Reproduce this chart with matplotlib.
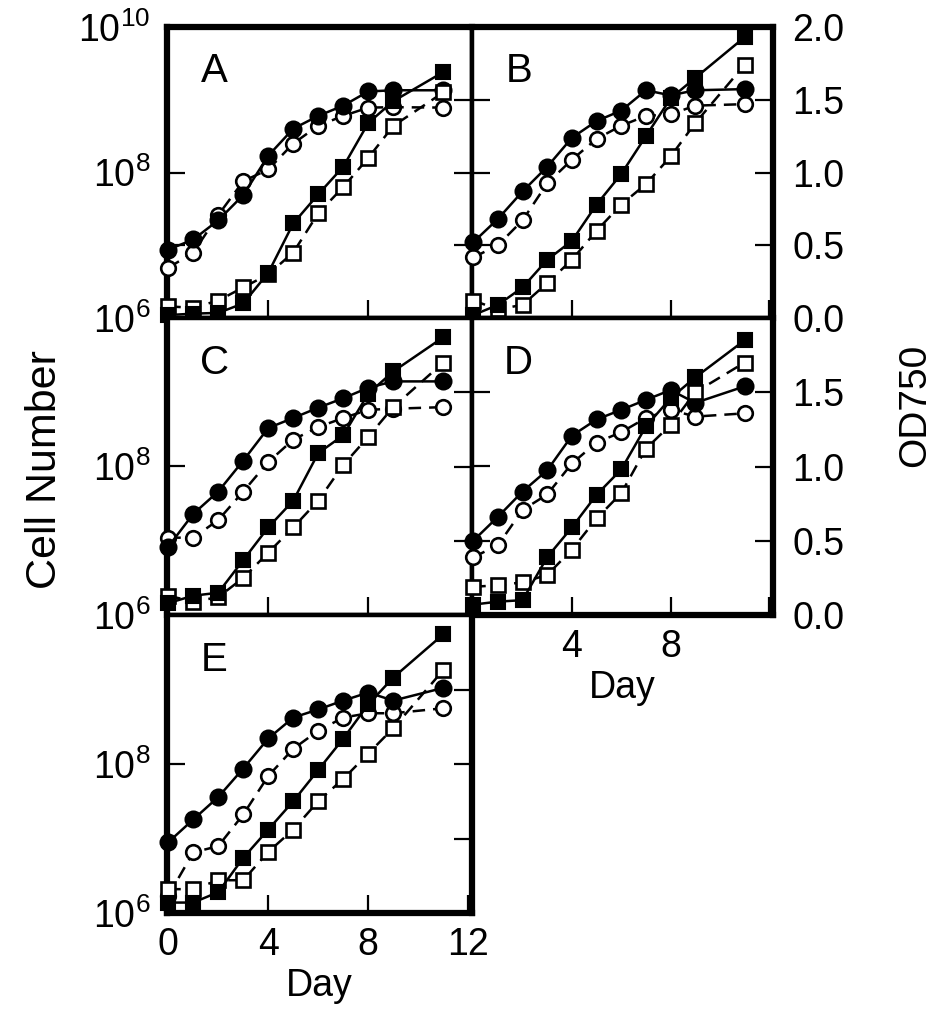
import numpy as np
import matplotlib.pyplot as plt
from matplotlib.ticker import FixedLocator, FixedFormatter, NullLocator

plt.rcParams['font.family'] = ['Liberation Sans', 'DejaVu Sans']
plt.rcParams['mathtext.fontset'] = 'custom'
plt.rcParams['mathtext.rm'] = 'Liberation Sans'

days = [0, 1, 2, 3, 4, 5, 6, 7, 8, 9, 11]

# cell number (circles, log axis) and OD750 (squares, linear axis)
A_cells_filled = [8.7e6, 1.2e7, 2.2e7, 4.9e7, 1.7e8, 4.0e8, 6.0e8, 8.3e8, 1.3e9, 1.35e9, 1.35e9]
A_cells_open = [4.9e6, 7.9e6, 2.6e7, 7.6e7, 1.1e8, 2.5e8, 4.4e8, 6.0e8, 7.8e8, 7.9e8, 7.8e8]
A_od_filled = [0.02, 0.03, 0.035, 0.10, 0.31, 0.65, 0.85, 1.04, 1.34, 1.49, 1.69]
A_od_open = [0.08, 0.07, 0.12, 0.21, 0.30, 0.45, 0.72, 0.90, 1.10, 1.32, 1.55]

B_cells_filled = [1.1e7, 2.3e7, 5.5e7, 1.2e8, 3.0e8, 5.1e8, 7.1e8, 1.35e9, 1.15e9, 1.35e9, 1.4e9]
B_cells_open = [6.8e6, 1.0e7, 2.2e7, 7.1e7, 1.5e8, 2.9e8, 4.4e8, 6.0e8, 6.3e8, 8.3e8, 8.7e8]
B_od_filled = [0.02, 0.09, 0.21, 0.40, 0.53, 0.78, 0.99, 1.25, 1.51, 1.65, 1.93]
B_od_open = [0.12, 0.06, 0.09, 0.24, 0.40, 0.60, 0.78, 0.92, 1.11, 1.34, 1.74]

C_cells_filled = [8.3e6, 2.3e7, 4.6e7, 1.2e8, 3.3e8, 4.5e8, 6.2e8, 8.3e8, 1.15e9, 1.4e9, 1.4e9]
C_cells_open = [1.1e7, 1.1e7, 1.9e7, 4.6e7, 1.15e8, 2.3e8, 3.4e8, 4.5e8, 5.8e8, 6.0e8, 6.3e8]
C_od_filled = [0.08, 0.13, 0.15, 0.37, 0.59, 0.77, 1.09, 1.21, 1.49, 1.64, 1.87]
C_od_open = [0.13, 0.09, 0.12, 0.25, 0.42, 0.59, 0.77, 1.01, 1.20, 1.40, 1.70]

D_cells_filled = [1.0e7, 2.1e7, 4.6e7, 8.9e7, 2.6e8, 4.3e8, 5.8e8, 7.9e8, 1.07e9, 7.2e8, 1.2e9]
D_cells_open = [6.0e6, 8.7e6, 2.6e7, 4.2e7, 1.1e8, 2.1e8, 2.9e8, 4.5e8, 5.8e8, 4.7e8, 5.2e8]
D_od_filled = [0.07, 0.09, 0.10, 0.39, 0.59, 0.81, 0.98, 1.27, 1.46, 1.60, 1.85]
D_od_open = [0.19, 0.20, 0.22, 0.27, 0.44, 0.65, 0.82, 1.12, 1.28, 1.50, 1.70]

E_cells_filled = [8.9e6, 1.8e7, 3.6e7, 8.7e7, 2.2e8, 4.2e8, 5.4e8, 7.1e8, 9.1e8, 7.1e8, 1.05e9]
E_cells_open = [1.7e6, 6.5e6, 7.9e6, 2.1e7, 6.9e7, 1.6e8, 2.8e8, 4.2e8, 4.8e8, 4.8e8, 5.6e8]
E_od_filled = [0.07, 0.07, 0.14, 0.37, 0.56, 0.75, 0.96, 1.17, 1.40, 1.58, 1.87]
E_od_open = [0.16, 0.16, 0.22, 0.22, 0.41, 0.56, 0.75, 0.90, 1.07, 1.24, 1.63]

W, H = 945, 1021
fig = plt.figure(figsize=(W / 100, H / 100), dpi=100)

FS = 27
dash = (0, (5, 3.2))


def panel(box, letter, cf, co, of, oo, outer, left_col, ylabels_log, ylabels_od, xlabels):
    x0, y0, x1, y1 = box
    ax = fig.add_axes([x0 / W, 1 - y1 / H, (x1 - x0) / W, (y1 - y0) / H])
    ax.set_yscale('log')
    ax.set_ylim(1e6, 1e10)
    ax.set_xlim(-0.05, 12.15)
    ax2 = ax.twinx()
    ax2.set_ylim(0, 2)

    ax.plot(days, cf, '-o', color='k', ms=11.5, lw=1.8, mew=1.5, clip_on=False, zorder=5)
    ax.plot(days, co, 'o', ls=dash, color='k', mfc='white', mec='k', ms=10.5, lw=1.8,
            mew=1.9, clip_on=False, zorder=4)
    ax2.plot(days, of, '-s', color='k', ms=10.5, lw=1.8, mew=1.5, clip_on=False, zorder=5)
    ax2.plot(days, oo, 's', ls=dash, color='k', mfc='white', mec='k', ms=10, lw=1.8,
             mew=1.9, clip_on=False, zorder=4)

    for side in ['left', 'right', 'top', 'bottom']:
        ax.spines[side].set_linewidth(4.5 if side in outer else 3.2)
        ax2.spines[side].set_visible(False)

    # left (cell number) ticks
    if left_col:
        locs = [t for t, _ in ylabels_log]
        labs = [l for _, l in ylabels_log]
    else:
        locs = [1e7, 1e8, 1e9]
        labs = ['', '', '']
    ax.yaxis.set_major_locator(FixedLocator(locs))
    ax.yaxis.set_major_formatter(FixedFormatter(labs))
    ax.yaxis.set_minor_locator(NullLocator())
    ax.tick_params(axis='y', which='major', direction='in', length=13, width=1.6,
                   labelsize=FS, pad=12)

    # right (OD750) ticks
    ax2.yaxis.set_major_locator(FixedLocator([0, 0.5, 1.0, 1.5, 2.0]))
    ax2.yaxis.set_major_formatter(FixedFormatter(ylabels_od))
    ax2.tick_params(axis='y', direction='in', length=13, width=1.6, labelsize=FS, pad=14)

    ax.xaxis.set_major_locator(FixedLocator([0, 4, 8, 12]))
    ax.xaxis.set_major_formatter(FixedFormatter(xlabels))
    ax.tick_params(axis='x', direction='in', length=13, width=1.6, labelsize=FS, pad=10)
    if any(xlabels):
        ax.set_xlabel('Day', fontsize=FS, labelpad=4)

    ax.text(0.155, 0.85, letter, transform=ax.transAxes, fontsize=29,
            ha='center', va='center')
    return ax


none5 = ['', '', '', '', '']
none4 = ['', '', '', '']
od_all = ['0.0', '0.5', '1.0', '1.5', '2.0']
od_low = ['0.0', '0.5', '1.0', '1.5', '']

panel((167, 27, 472, 318), 'A', A_cells_filled, A_cells_open, A_od_filled, A_od_open,
      ['left', 'top'], True,
      [(1e6, r'$\mathregular{10^{6}}$'), (1e7, ''), (1e8, r'$\mathregular{10^{8}}$'),
       (1e10, r'$\mathregular{10^{10}}$')], none5, none4)
panel((472, 27, 773, 318), 'B', B_cells_filled, B_cells_open, B_od_filled, B_od_open,
      ['top', 'right'], False, None, od_all, none4)
panel((167, 318, 472, 615), 'C', C_cells_filled, C_cells_open, C_od_filled, C_od_open,
      ['left'], True,
      [(1e6, r'$\mathregular{10^{6}}$'), (1e8, r'$\mathregular{10^{8}}$')], none5, none4)
panel((472, 318, 773, 615), 'D', D_cells_filled, D_cells_open, D_od_filled, D_od_open,
      ['right', 'bottom'], False, None, od_low, ['', '4', '8', ''])
panel((167, 615, 472, 913), 'E', E_cells_filled, E_cells_open, E_od_filled, E_od_open,
      ['left', 'bottom', 'right'], True,
      [(1e6, r'$\mathregular{10^{6}}$'), (1e8, r'$\mathregular{10^{8}}$')], none5,
      ['0', '4', '8', '12'])

fig.text(45 / W, 1 - 470 / H, 'Cell Number', rotation=90, ha='center', va='center',
         fontsize=31)
fig.text(915 / W, 1 - 405 / H, 'OD750', rotation=90, ha='center', va='center',
         fontsize=28)

fig.savefig('out.png', dpi=100)
